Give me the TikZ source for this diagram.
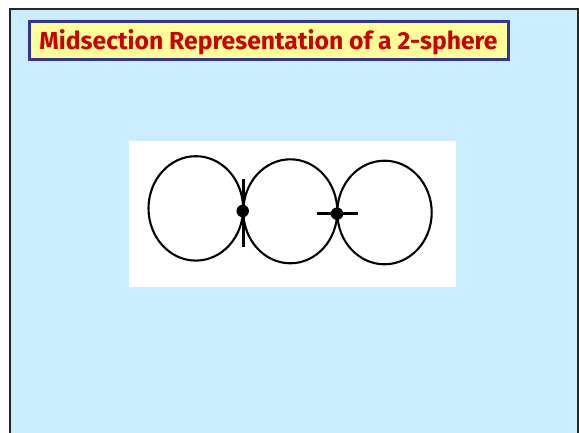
\documentclass[tikz,border=0pt]{standalone}
\usepackage{fontspec}
\newfontfamily\titlefont{Fira Sans}
\usepackage{graphicx}
\definecolor{bgblue}{HTML}{CCECFF}
\definecolor{titlefill}{HTML}{FFFF99}
\definecolor{titleborder}{HTML}{333399}
\definecolor{titletext}{HTML}{CC0000}
\tikzset{
  loop/.style={draw=black, line width=2.1pt},
  bar/.style={draw=black, line width=3pt},
  joint/.style={circle, fill=black, inner sep=0pt, minimum size=12.5pt},
}
\begin{document}
\begin{tikzpicture}[x=1pt,y=-1pt]
\useasboundingbox (0,0) rectangle (579,433);
\fill[white] (0,0) rectangle (579,433);
% slide frame
\filldraw[fill=bgblue, draw=black!85, line width=1.8pt] (9.8,8.8) rectangle (578,445);
% title
\filldraw[fill=titlefill, draw=titleborder, line width=3pt] (29.5,21.5) rectangle (508.5,59.5);
\node[anchor=base, inner sep=0pt, text=titletext] (title) at (268.5,50)
  {\resizebox{458pt}{20pt}{\titlefont\bfseries Midsection Representation of a 2-sphere}};
% white panel
\fill[white] (129,141) rectangle (456,287);
% circles
\draw[loop] (195.8,208.4) ellipse [x radius=47.3, y radius=52.2];
\draw[loop] (290.3,211.3) ellipse [x radius=47, y radius=52];
\draw[loop] (384.5,212.5) ellipse [x radius=47.2, y radius=51.8];
% joints
\coordinate (v1) at (243,179);
\coordinate (v2) at (243,247.5);
\draw[bar] (v1) -- (v2);
\node[joint] (d1) at (242.7,211) {};
\coordinate (h1) at (316.5,213.7);
\coordinate (h2) at (357.5,213.7);
\draw[bar] (h1) -- (h2);
\node[joint] (d2) at (337,213.7) {};
\end{tikzpicture}
\end{document}
